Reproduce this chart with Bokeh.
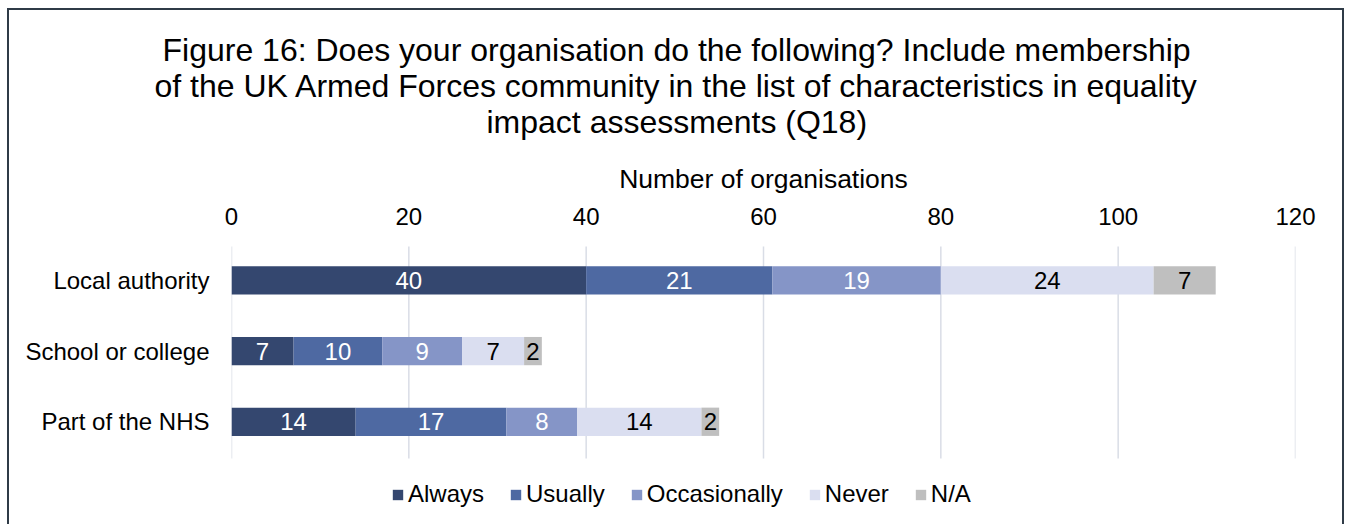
from bokeh.plotting import figure
from bokeh.models import (ColumnDataSource, Range1d, FixedTicker, LabelSet,
                          Title, Legend, LegendItem)
from bokeh.core.properties import value
from bokeh.embed import file_html
from bokeh.resources import INLINE

# ---------------- data ----------------
categories = ["Local authority", "School or college", "Part of the NHS"]
series_names = ["Always", "Usually", "Occasionally", "Never", "N/A"]
always = [40, 7, 14]
usually = [21, 10, 17]
occasionally = [19, 9, 8]
never = [24, 7, 14]
not_applicable = [7, 2, 2]
x_ticks = [0, 20, 40, 60, 80, 100, 120]
title_lines = [
    "Figure 16: Does your organisation do the following? Include membership",
    "of the UK Armed Forces community in the list of characteristics in equality",
    "impact assessments (Q18)",
]
axis_title = "Number of organisations"

colors = ["#34476F", "#4E69A2", "#8595C7", "#DADEF0", "#BFBFBF"]
label_colors = ["#FFFFFF", "#FFFFFF", "#FFFFFF", "#000000", "#000000"]
FONT = "Liberation Sans"

series_values = [always, usually, occasionally, never, not_applicable]
keys = ["always", "usually", "occasionally", "never", "na"]
cat_pos = list(range(len(categories)))          # 0 = top row

data = {"y": cat_pos}
for k, v in zip(keys, series_values):
    data[k] = v
source = ColumnDataSource(data)

# frame spans from the axis down to the bottom of the chart; rows occupy the upper part
top_val = -0.48
p = figure(width=1337, height=516,
           y_range=Range1d(top_val + 3.962, top_val),
           x_range=Range1d(0, 120),
           x_axis_location="above",
           output_backend="svg", toolbar_location=None,
           min_border_left=222, min_border_right=51,
           min_border_top=236, min_border_bottom=0)
border = "2px solid #2F3B47"
p.styles = {"border-top": border, "border-left": border, "border-right": border,
            "margin-left": "7px", "margin-top": "8px"}
p.outline_line_color = None
p.xgrid.grid_line_color = None
p.ygrid.grid_line_color = None

# vertical gridlines limited to the category rows
p.segment(x0=x_ticks, x1=x_ticks, y0=[-0.5] * len(x_ticks),
          y1=[len(categories) - 0.48] * len(x_ticks),
          line_color="#D9DDE6", line_width=1.5)

renderers = p.hbar_stack(keys, y="y", height=0.4, color=colors, line_color=None,
                         source=source)

# data labels
left = [0] * len(categories)
for vals, tc in zip(series_values, label_colors):
    mids = [l + v / 2 for l, v in zip(left, vals)]
    left = [l + v for l, v in zip(left, vals)]
    lsrc = ColumnDataSource(dict(x=mids, y=cat_pos, t=[str(v) for v in vals]))
    p.add_layout(LabelSet(x="x", y="y", text="t", source=lsrc,
                          text_align="center", text_baseline="middle",
                          text_color=tc, text_font_size="24px",
                          text_font=value(FONT)))

# axes
xa = p.xaxis[0]
xa.ticker = FixedTicker(ticks=x_ticks)
xa.axis_label = axis_title
xa.axis_label_text_font = FONT
xa.axis_label_text_font_style = "normal"
xa.axis_label_text_font_size = "26.5px"
xa.axis_label_text_color = "#000000"
xa.axis_label_standoff = 11
xa.major_label_text_font = FONT
xa.major_label_text_font_size = "24px"
xa.major_label_text_color = "#000000"
xa.major_label_standoff = 22
xa.axis_line_color = None
xa.major_tick_line_color = None
xa.minor_tick_line_color = None
xa.major_tick_out = 0
xa.major_tick_in = 0

ya = p.yaxis[0]
ya.ticker = FixedTicker(ticks=cat_pos)
ya.major_label_overrides = {i: c for i, c in zip(cat_pos, categories)}
ya.major_label_text_font = FONT
ya.major_label_text_font_size = "24px"
ya.major_label_text_color = "#000000"
ya.major_label_standoff = 22
ya.axis_line_color = None
ya.major_tick_line_color = None
ya.minor_tick_line_color = None
ya.major_tick_out = 0
ya.major_tick_in = 0

# title lines (stacked outward from the axis: spacer, line 3, line 2, line 1)
p.add_layout(Title(text=" ", text_font_size="2px", standoff=18), "above")
for line, off in zip(reversed(title_lines), [255, -77, -69]):
    p.add_layout(Title(text=line, align="left", offset=off, standoff=-2,
                       vertical_align="bottom",
                       text_font=FONT, text_font_size="32px", text_font_style="normal",
                       text_color="#000000"), "above")

legend = Legend(items=[LegendItem(label=n, renderers=[r]) for n, r in zip(series_names, renderers)],
                orientation="horizontal", location=(160, 18),
                glyph_width=13, glyph_height=13, label_standoff=4, spacing=25,
                padding=0, margin=0, border_line_color=None, background_fill_alpha=0,
                label_text_font=FONT, label_text_font_size="24px", label_text_color="#000000")
p.add_layout(legend, "center")

open("out.html", "w").write(file_html(p, INLINE))
